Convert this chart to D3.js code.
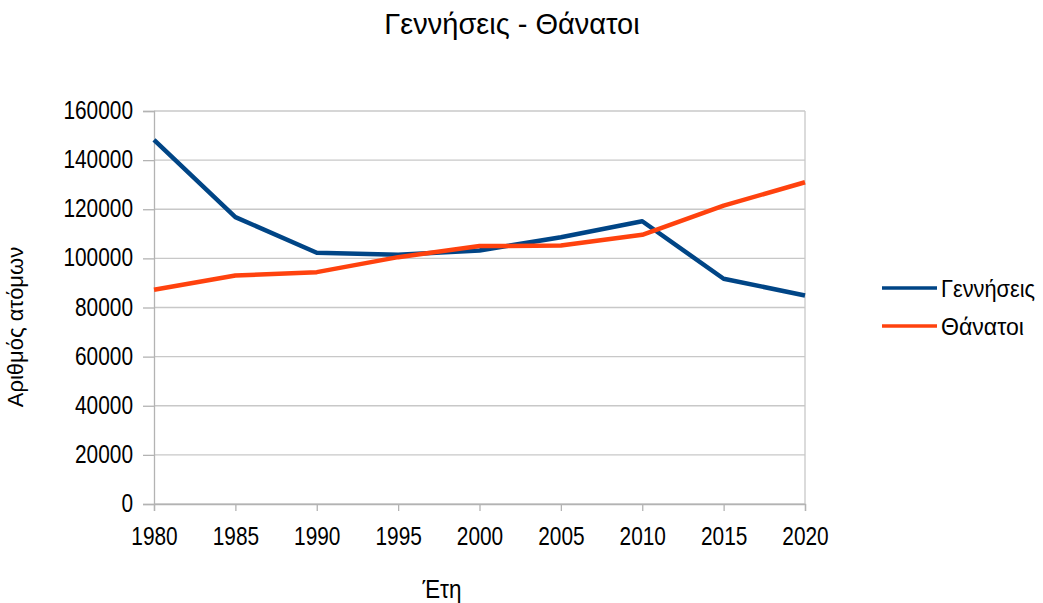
<!DOCTYPE html>
<html>
<head>
<meta charset="utf-8">
<script src="https://cdn.jsdelivr.net/npm/d3@7"></script>
<style>
  body { margin: 0; background: #fff; }
  svg { display: block; font-family: "Liberation Sans", Arial, sans-serif; }
</style>
</head>
<body>
<svg id="chart" width="1043" height="603"></svg>
<script>
const years = [1980, 1985, 1990, 1995, 2000, 2005, 2010, 2015, 2020];
const births = [148200, 116800, 102300, 101500, 103200, 108600, 115100, 91700, 84900];
const deaths = [87200, 93000, 94400, 100500, 105000, 105200, 109600, 121500, 131000];
const yTicks = [0, 20000, 40000, 60000, 80000, 100000, 120000, 140000, 160000];
const seriesNames = ["Γεννήσεις", "Θάνατοι"];
const colors = ["#004586", "#ff420e"];
const title = "Γεννήσεις - Θάνατοι";
const xTitle = "Έτη";
const yTitle = "Αριθμός ατόμων";

(function () {
const svg = d3.select("#chart");
const pLeft = 154, pRight = 805, pTop = 111, pBottom = 504;
const digitW = 11.6; // compressed glyph advance seen in the reference

const x = d3.scaleLinear().domain([1980, 2020]).range([pLeft, pRight]);
const y = d3.scaleLinear().domain([0, 160000]).range([pBottom, pTop]);

// gridlines
svg.append("g").selectAll("line").data(yTicks).join("line")
  .attr("x1", pLeft).attr("x2", pRight)
  .attr("y1", d => y(d)).attr("y2", d => y(d))
  .attr("stroke", "#c8c8c8").attr("stroke-width", 1.3);

// right border
svg.append("line").attr("x1", pRight).attr("x2", pRight).attr("y1", pTop).attr("y2", pBottom)
  .attr("stroke", "#c8c8c8").attr("stroke-width", 1.3);

// y axis
const yAxis = svg.append("g").attr("transform", `translate(${pLeft},0)`)
  .call(d3.axisLeft(y).tickValues(yTicks).tickSize(11).tickPadding(10).tickFormat(d3.format("d")));
yAxis.select(".domain").attr("stroke", "#b3b3b3").attr("stroke-width", 1.3);
yAxis.selectAll(".tick line").attr("stroke", "#b3b3b3").attr("stroke-width", 1.3);
yAxis.selectAll("text").attr("font-size", 25).attr("fill", "#000").attr("dy", "0.3em")
  .attr("textLength", d => String(d).length * digitW).attr("lengthAdjust", "spacingAndGlyphs");

// x axis
const xAxis = svg.append("g").attr("transform", `translate(0,${pBottom})`)
  .call(d3.axisBottom(x).tickValues(years).tickSize(7).tickPadding(16).tickFormat(d3.format("d")));
xAxis.select(".domain").attr("stroke", "#b3b3b3").attr("stroke-width", 1.3);
xAxis.selectAll(".tick line").attr("stroke", "#b3b3b3").attr("stroke-width", 1.3);
xAxis.selectAll("text").attr("font-size", 25).attr("fill", "#000")
  .attr("textLength", d => String(d).length * digitW).attr("lengthAdjust", "spacingAndGlyphs");

// lines
const line = d3.line().x((d, i) => x(years[i])).y(d => y(d));
[births, deaths].forEach((s, k) => {
  svg.append("path").datum(s)
    .attr("fill", "none").attr("stroke", colors[k]).attr("stroke-width", 4.5)
    .attr("stroke-linejoin", "round")
    .attr("d", line);
});

// title
svg.append("text").attr("x", 512).attr("y", 34).attr("text-anchor", "middle")
  .attr("font-size", 29).attr("fill", "#000").text(title);

// axis titles
svg.append("text").attr("x", 442).attr("y", 598).attr("text-anchor", "middle")
  .attr("font-size", 25).attr("textLength", 39).attr("lengthAdjust", "spacingAndGlyphs")
  .attr("fill", "#000").text(xTitle);
svg.append("text").attr("transform", "translate(23,327) rotate(-90)").attr("text-anchor", "middle")
  .attr("font-size", 22).attr("fill", "#000").text(yTitle);

// legend
const legendW = [94, 83];
const lg = svg.append("g");
seriesNames.forEach((n, k) => {
  const ly = 288 + k * 38;
  lg.append("line").attr("x1", 882).attr("x2", 937).attr("y1", ly).attr("y2", ly)
    .attr("stroke", colors[k]).attr("stroke-width", 3.5);
  lg.append("text").attr("x", 941).attr("y", ly + 8.5).attr("font-size", 23.5)
    .attr("textLength", legendW[k]).attr("lengthAdjust", "spacingAndGlyphs")
    .attr("fill", "#000").text(n);
});
})();
</script>
</body>
</html>
